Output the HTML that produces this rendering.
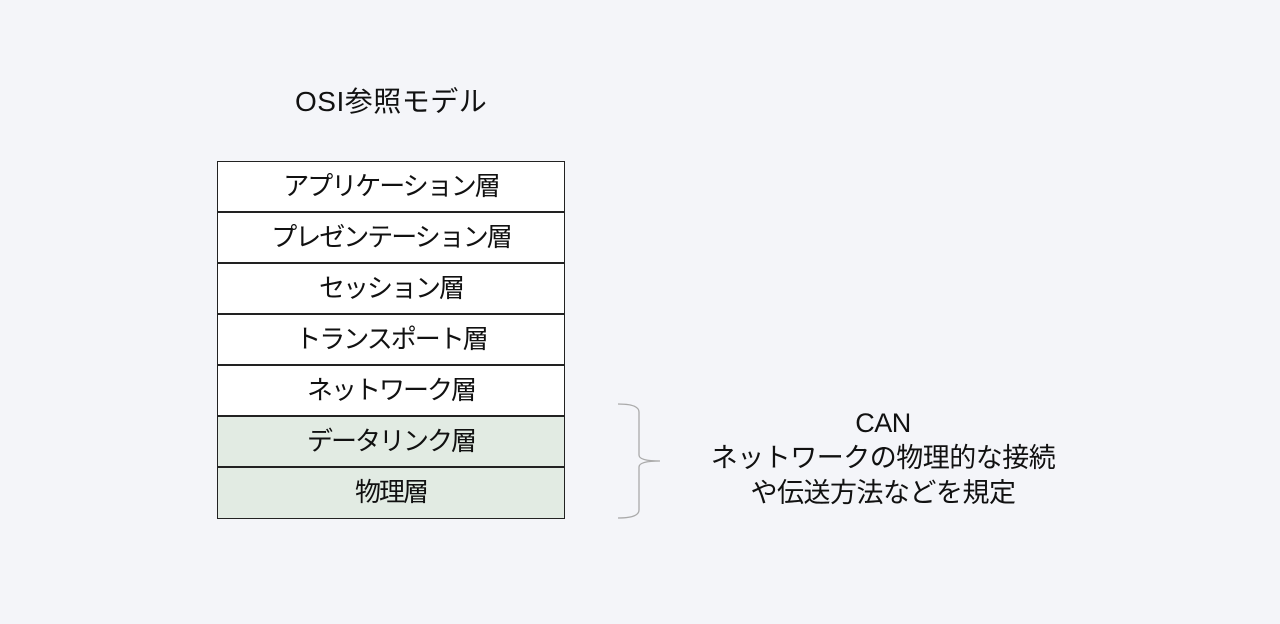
<!DOCTYPE html>
<html><head><meta charset="utf-8"><style>
body{margin:0;width:1280px;height:624px;background:#f4f5f9;position:relative;font-family:"Liberation Sans","Noto Sans CJK JP",sans-serif;overflow:hidden}
.t{position:absolute;color:#111;white-space:nowrap}
.row{position:absolute;left:217px;width:348px;height:51px;box-sizing:border-box;border:1.5px solid #222;font-size:26px;text-align:center;line-height:49px;background:#fff;color:#111;letter-spacing:-2px}
.g{background:#e2ebe3}
</style></head><body>
<div class="t" style="left:295px;top:80px;font-size:28px;letter-spacing:0.5px">OSI参照モデル</div>
<div class="row" style="top:161px">アプリケーション層</div>
<div class="row" style="top:212px">プレゼンテーション層</div>
<div class="row" style="top:263px">セッション層</div>
<div class="row" style="top:314px">トランスポート層</div>
<div class="row" style="top:365px">ネットワーク層</div>
<div class="row g" style="top:416px">データリンク層</div>
<div class="row g" style="top:467px;height:52px">物理層</div>
<svg style="position:absolute;left:0;top:0" width="1280" height="624"><path d="M618 404 Q639 404 639 412 L639 455 Q639 461 660 461 Q639 461 639 467 L639 510 Q639 518 618 518" fill="none" stroke="#aaa" stroke-width="1.3"/></svg>
<div class="t" style="left:683px;top:406px;width:400px;text-align:center;font-size:27px;line-height:35px;letter-spacing:-0.5px">CAN<br>ネットワークの物理的な接続<br>や伝送方法などを規定</div>
</body></html>
